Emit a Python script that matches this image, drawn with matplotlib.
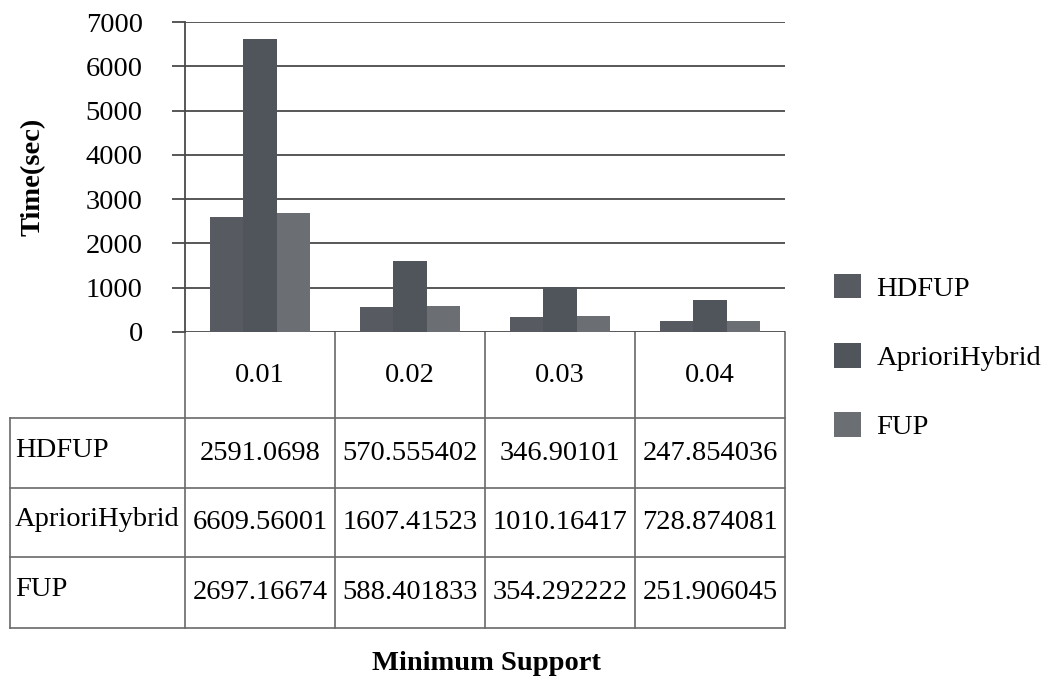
import matplotlib
matplotlib.use("Agg")
import matplotlib.pyplot as plt
import numpy as np
from matplotlib.patches import Patch

plt.rcParams["font.family"] = ["Liberation Serif", "DejaVu Serif"]

# minimum support levels and running times (sec)
supports = ["0.01", "0.02", "0.03", "0.04"]
series = ["HDFUP", "AprioriHybrid", "FUP"]
hdfup = [2591.0698, 570.555402, 346.90101, 247.854036]
apriori = [6609.56001, 1607.41523, 1010.16417, 728.874081]
fup = [2697.16674, 588.401833, 354.292222, 251.906045]
table_text = [["2591.0698", "570.555402", "346.90101", "247.854036"],
              ["6609.56001", "1607.41523", "1010.16417", "728.874081"],
              ["2697.16674", "588.401833", "354.292222", "251.906045"]]
colors = ["#575b61", "#50555b", "#6b6f74"]
fs = 20.5

fig = plt.figure(figsize=(10.45, 6.85), dpi=100)
W, H = 1045.0, 685.0

# overlay in pixel units for the table grid under the chart
tab = fig.add_axes([0, 0, 1, 1])
tab.set_xlim(0, W)
tab.set_ylim(H, 0)
tab.axis("off")

ax = fig.add_axes([185 / W, 1 - 332 / H, 600 / W, 310 / H])
ax.patch.set_alpha(0)

x = np.arange(len(supports))
bw = 0.222
for i, vals in enumerate([hdfup, apriori, fup]):
    ax.bar(x + (i - 1) * bw, vals, width=bw, color=colors[i],
           edgecolor="none", label=series[i], zorder=3)

ax.set_xlim(-0.5, 3.5)
ax.set_ylim(0, 7000)
ax.set_yticks(np.arange(0, 7001, 1000))
ax.yaxis.grid(True, color="#4a4a4a", linewidth=1.3, zorder=0)
ax.set_xticks([])
ax.tick_params(axis="y", length=9.5, width=1.3, color="#4a4a4a", pad=21,
               labelsize=fs)
for s in ["top", "right", "bottom"]:
    ax.spines[s].set_visible(False)
ax.spines["left"].set_color("#4a4a4a")
ax.spines["left"].set_linewidth(1.3)

ax.set_ylabel("Time(sec)", fontsize=fs, fontweight="bold")
ax.yaxis.set_label_coords(-0.232, 0.5)

# table: label column then one column per support level
col_x = [10, 185, 335, 485, 635, 785]
row_y = [332, 418, 488, 557, 628]
lc = "#6a6a6a"
for cx in col_x[1:]:
    tab.plot([cx, cx], [row_y[0], row_y[-1]], color=lc, lw=1.2)
tab.plot([col_x[0], col_x[0]], [row_y[1], row_y[-1]], color=lc, lw=1.2)
for ry in row_y[1:]:
    tab.plot([col_x[0], col_x[-1]], [ry, ry], color=lc, lw=1.2)
for j, s in enumerate(supports):
    tab.text((col_x[j + 1] + col_x[j + 2]) / 2, (row_y[0] + row_y[1]) / 2,
             s, fontsize=fs, ha="center", va="center")
for i, name in enumerate(series):
    yc = (row_y[i + 1] + row_y[i + 2]) / 2
    tab.text(col_x[0] + 5, yc - 3, name, fontsize=fs, ha="left", va="center")
    for j, t in enumerate(table_text[i]):
        tab.text((col_x[j + 1] + col_x[j + 2]) / 2, yc, t, fontsize=fs,
                 ha="center", va="center")

fig.text(486 / W, 1 - 664 / H, "Minimum Support", fontsize=fs,
         fontweight="bold", ha="center", va="center")

handles = [Patch(facecolor=colors[i], edgecolor="none") for i in range(3)]
fig.legend(handles, series, loc="center left",
           bbox_to_anchor=(808 / W, 1 - 357 / H), frameon=False,
           fontsize=fs, handlelength=0.95, handleheight=0.95,
           handletextpad=0.55, labelspacing=1.45)

fig.savefig("out.png", dpi=100)
